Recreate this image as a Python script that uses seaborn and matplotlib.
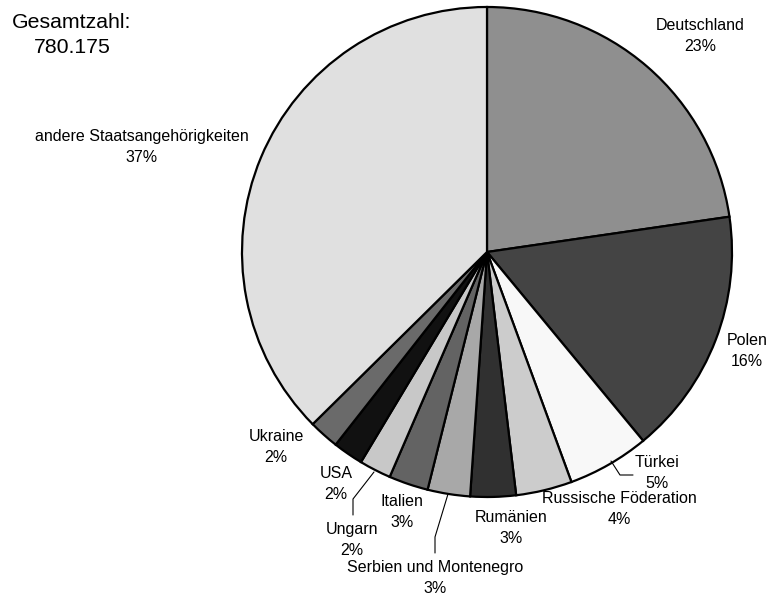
import matplotlib
matplotlib.use("Agg")
import matplotlib.pyplot as plt
import seaborn as sns

# Anteile der Staatsangehörigkeiten (in %)
laender = ["Deutschland", "Polen", "Türkei", "Russische Föderation", "Rumänien",
           "Serbien und Montenegro", "Italien", "Ungarn", "USA", "Ukraine",
           "andere Staatsangehörigkeiten"]
anteile = [22.7, 16.3, 5.4, 3.7, 3.0, 2.8, 2.6, 2.1, 2.0, 2.0, 37.4]
gesamtzahl = "780.175"

farben = ["#8f8f8f", "#444444", "#f8f8f8", "#cccccc", "#303030", "#a8a8a8",
          "#636363", "#c8c8c8", "#111111", "#6a6a6a", "#e0e0e0"]

# Layout in Pixeln (x, y von oben)
W, H = 770, 598
mitte = (487, 252)
radius = 245
label_pos = [(700, 36), (747, 351), (657, 473), (619, 509), (511, 528),
             (435, 578), (402, 512), (352, 540), (336, 484), (276, 447),
             (142, 147)]
leader = {
    "Türkei": [(611, 461), (620, 475), (633, 475)],
    "Serbien und Montenegro": [(448, 494), (435, 537), (435, 553)],
    "Ungarn": [(374, 472), (353, 499), (353, 515)],
}

sns.set_style("white")
plt.rcParams["font.family"] = ["Liberation Sans", "DejaVu Sans"]
plt.rcParams["text.color"] = "black"


def px(x, y):
    return x, H - y


fig = plt.figure(figsize=(W / 100, H / 100), dpi=100)
ax = fig.add_axes([0, 0, 1, 1])

ax.pie(anteile, colors=farben, startangle=90, counterclock=False,
       center=px(*mitte), radius=radius, frame=True,
       wedgeprops=dict(edgecolor="black", linewidth=1.6))
ax.set_xlim(0, W)
ax.set_ylim(0, H)
ax.set_aspect("equal")
ax.axis("off")

for land, wert, (x, y) in zip(laender, anteile, label_pos):
    ax.text(*px(x, y), f"{land}\n{round(wert)}%", ha="center", va="center",
            fontsize=11.5, linespacing=1.55, color="black")

for land, punkte in leader.items():
    xs, ys = zip(*[px(x, y) for x, y in punkte])
    ax.plot(xs, ys, color="black", lw=0.8)

ax.text(*px(72, 35), f"Gesamtzahl:\n{gesamtzahl}", ha="center", va="center",
        fontsize=15.3, linespacing=1.4, color="black")

fig.savefig("out.png", dpi=100)
